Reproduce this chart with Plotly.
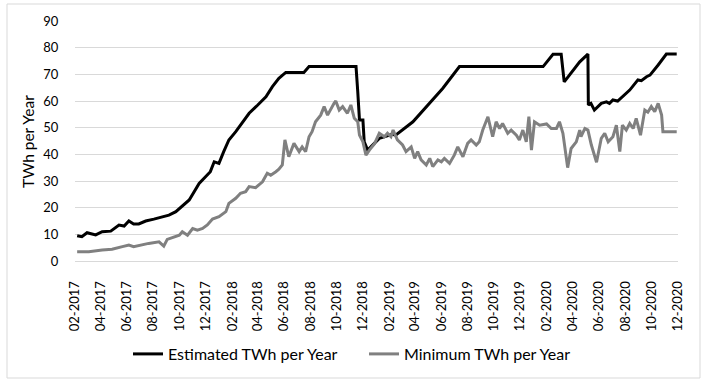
import plotly.graph_objects as go

est_dates = ["2017-02-06","2017-02-17","2017-03-01","2017-03-21","2017-04-05","2017-04-25","2017-05-14","2017-05-26",
             "2017-06-06","2017-06-17","2017-06-29","2017-07-15","2017-08-03","2017-08-23","2017-09-07","2017-09-23",
             "2017-10-01","2017-10-16","2017-10-24","2017-11-16","2017-12-01","2017-12-12","2017-12-21","2018-01-01",
             "2018-01-12","2018-01-24","2018-02-09","2018-02-25","2018-03-12","2018-04-01","2018-04-20","2018-05-05",
             "2018-05-20","2018-06-05","2018-07-17","2018-07-29","2018-11-15","2018-11-19","2018-11-23","2018-12-01",
             "2018-12-04","2018-12-12","2018-12-23","2019-01-08","2019-02-07","2019-02-15","2019-03-27","2019-05-05",
             "2019-06-04","2019-07-13","2020-01-23","2020-02-15","2020-03-05","2020-03-12","2020-04-17","2020-05-06",
             "2020-05-07","2020-05-13","2020-05-21","2020-06-06","2020-06-18","2020-06-25","2020-07-03","2020-07-14",
             "2020-07-26","2020-08-11","2020-08-30","2020-09-07","2020-09-19","2020-09-27","2020-10-16","2020-11-04",
             "2020-11-28"]
est_values = [9.5,9.1,10.6,9.8,11.0,11.2,13.5,13.1,
              15.0,13.9,13.9,15.0,15.7,16.6,17.2,18.5,
              19.7,22.0,22.9,29.1,31.6,33.5,37.2,36.6,
              41.0,45.4,48.5,52.2,55.4,58.5,61.6,65.4,
              68.5,70.7,70.7,72.9,72.9,63.5,52.9,52.9,
              44.7,41.6,43.5,46.0,47.5,47.2,52.2,59.1,
              64.7,72.9,72.9,77.5,77.5,67.2,74.7,77.6,
              58.5,59.1,56.6,59.1,59.7,59.1,60.4,60.0,
              61.6,64.1,67.9,67.6,69.1,69.7,73.5,77.6,
              77.6]

min_dates = ["2017-02-06","2017-03-05","2017-04-05","2017-04-28","2017-05-22","2017-06-06","2017-06-17","2017-07-03",
             "2017-07-22","2017-08-15","2017-08-26","2017-09-03","2017-09-19","2017-10-01","2017-10-08","2017-10-20",
             "2017-11-01","2017-11-12","2017-11-24","2017-12-05","2017-12-17","2018-01-01","2018-01-17","2018-01-24",
             "2018-02-09","2018-02-20","2018-03-04","2018-03-12","2018-03-27","2018-04-12","2018-04-23","2018-05-01",
             "2018-05-13","2018-05-20","2018-05-28","2018-06-03","2018-06-12","2018-06-24","2018-07-06","2018-07-13",
             "2018-07-21","2018-07-29","2018-08-05","2018-08-13","2018-08-25","2018-09-02","2018-09-10","2018-09-18",
             "2018-09-25","2018-09-29","2018-10-07","2018-10-15","2018-10-26","2018-11-03","2018-11-11","2018-11-19",
             "2018-11-23","2018-12-01","2018-12-08","2018-12-16","2018-12-28","2019-01-08","2019-01-20","2019-01-27",
             "2019-02-04","2019-02-09","2019-02-19","2019-03-03","2019-03-11","2019-03-23","2019-03-31","2019-04-07",
             "2019-04-15","2019-04-27","2019-05-05","2019-05-12","2019-05-24","2019-06-01","2019-06-08","2019-06-20",
             "2019-07-01","2019-07-09","2019-07-21","2019-08-01","2019-08-09","2019-08-21","2019-08-28","2019-09-05",
             "2019-09-17","2019-09-28","2019-10-06","2019-10-14","2019-10-21","2019-11-02","2019-11-10","2019-11-22",
             "2019-11-29","2019-12-07","2019-12-15","2019-12-21","2019-12-27","2020-01-03","2020-01-15","2020-01-31",
             "2020-02-11","2020-02-23","2020-03-01","2020-03-09","2020-03-20","2020-03-28","2020-04-09","2020-04-17",
             "2020-04-20","2020-04-29","2020-05-06","2020-05-14","2020-05-26","2020-06-06","2020-06-14","2020-06-22",
             "2020-07-03","2020-07-11","2020-07-19","2020-07-25","2020-08-03","2020-08-11","2020-08-19","2020-08-26",
             "2020-09-05","2020-09-15","2020-09-22","2020-09-30","2020-10-08","2020-10-16","2020-10-24","2020-10-27",
             "2020-11-28"]
min_values = [3.5,3.5,4.1,4.4,5.4,6.0,5.4,6.0,
              6.6,7.2,5.6,8.1,9.1,9.7,11.0,9.7,
              12.2,11.6,12.2,13.5,15.7,16.6,18.5,21.6,
              23.5,25.4,26.0,27.9,27.5,29.7,32.9,32.2,
              33.5,34.4,36.0,45.4,39.1,44.1,41.0,42.8,
              41.0,46.6,48.5,52.2,54.7,57.9,54.7,57.3,
              59.1,60.0,56.6,57.9,55.4,58.5,53.5,52.2,
              47.2,44.7,39.7,41.6,44.0,47.9,46.6,47.9,
              46.6,49.1,45.4,43.5,41.0,42.8,38.5,41.0,
              37.9,36.0,38.5,35.4,37.9,37.2,38.5,36.6,
              39.7,42.8,39.1,44.1,45.4,43.5,44.7,49.1,
              54.1,46.6,52.2,49.7,51.6,47.9,49.1,47.2,
              45.4,49.1,44.7,54.1,41.6,52.2,50.9,51.4,
              49.7,49.7,52.2,47.9,35.0,42.2,44.7,49.1,
              46.6,49.7,49.1,43.5,37.0,46.0,47.9,44.7,
              46.6,50.9,41.0,50.9,49.1,51.6,49.7,53.5,
              47.2,56.6,55.8,57.9,56.0,59.1,54.7,48.5,
              48.5]

series_names = ["Estimated TWh per Year", "Minimum TWh per Year"]
y_title = "TWh per Year"

W, H = 709, 385
L, R, T, B = 75, 31, 21, 124
pw, ph = W - L - R, H - T - B

def px_x(p):
    return (p - L) / pw

def px_y(p):
    return (H - B - p) / ph

fig = go.Figure()
fig.add_trace(go.Scatter(x=est_dates, y=est_values, mode="lines", name=series_names[0],
                         line=dict(color="#000000", width=3)))
fig.add_trace(go.Scatter(x=min_dates, y=min_values, mode="lines", name=series_names[1],
                         line=dict(color="#808080", width=3)))

font = "Lato, 'Open Sans', sans-serif"
fig.update_layout(
    width=W, height=H,
    margin=dict(l=L, r=R, t=T, b=B, autoexpand=False),
    paper_bgcolor="white", plot_bgcolor="white",
    font=dict(family=font, color="#000000", size=13),
    showlegend=True,
    legend=dict(orientation="h", x=px_x(128), xanchor="left", y=px_y(354), yanchor="middle",
                entrywidth=191, entrywidthmode="pixels",
                font=dict(size=16, family=font), bgcolor="rgba(0,0,0,0)"),
    xaxis=dict(type="date", range=["2017-02-01", "2020-12-01"], tick0="2017-02-01", dtick="M2",
               tickformat="%m-%Y", tickangle=-90, showgrid=False, zeroline=False,
               showline=True, linecolor="#d9d9d9", linewidth=1,
               ticks="outside", ticklen=14, tickcolor="rgba(0,0,0,0)",
               tickfont=dict(size=13, family=font)),
    yaxis=dict(range=[0, 90], dtick=10, showgrid=True, gridcolor="#d9d9d9", gridwidth=1,
               zeroline=False, showline=False, ticks="outside", ticklen=13,
               tickcolor="rgba(0,0,0,0)", tickfont=dict(size=13, family=font)),
    annotations=[dict(text=y_title, xref="paper", yref="paper", x=px_x(28), y=px_y(141),
                      textangle=-90, showarrow=False, xanchor="center", yanchor="middle",
                      font=dict(size=15.5, family=font))],
    shapes=[dict(type="rect", xref="paper", yref="paper",
                 x0=px_x(7), x1=px_x(700), y0=px_y(378), y1=px_y(4),
                 line=dict(color="#d9d9d9", width=1), fillcolor="rgba(0,0,0,0)", layer="below")],
)

fig.write_html("out.html", config={"displayModeBar": False},
               post_script="document.body.style.margin='0';document.body.style.overflow='hidden';")
